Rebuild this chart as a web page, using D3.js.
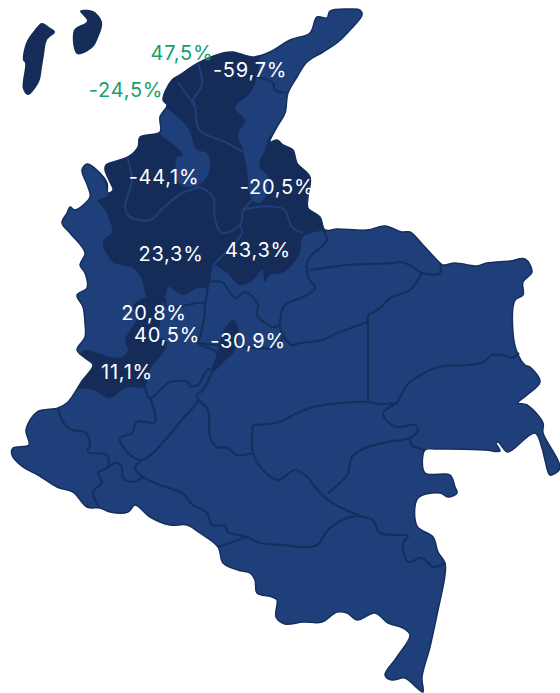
<!DOCTYPE html>
<html>
<head>
<meta charset="utf-8">
<style>
html, body { margin: 0; padding: 0; background: #fff; }
svg { display: block; }
text { font-family: Inter, sans-serif; font-size: 20px; font-weight: 400; letter-spacing: 0.75px; text-anchor: middle; }
</style>
<script src="https://cdn.jsdelivr.net/npm/d3@7"></script>
</head>
<body>
<div id="map"></div>
<script>
// Values
const labelValues = ['47,5%', '-24,5%', '-59,7%', '-44,1%', '-20,5%', '23,3%', '43,3%', '20,8%', '40,5%', '-30,9%', '11,1%'];
const labelOutside = [true, true, false, false, false, false, false, false, false, false, false];
const labelAnchors = [[182, 60], [126, 97], [250, 77], [164, 184], [277, 194], [171, 261], [258, 257], [154, 320], [167, 342], [248, 348], [127, 379]];

// Map geometry, in map units
const islandA = [[42, 23], [49, 27], [55, 32], [47, 40], [44, 55], [42, 67], [39, 82], [28, 95], [23, 89], [25, 63], [23, 60], [26, 43], [33, 32]];
const islandB = [[80, 11], [93, 11], [102, 22], [98, 38], [92, 48], [77, 54], [74, 30], [87, 21]];

const mainland = [
    [330, 11], [350, 9], [360, 10], [362, 15], [350, 30], [338, 42], [323, 52], [307, 62], [297, 77], [288, 93], [285, 113], [277, 127], [270, 142],
    [277, 140], [283, 145], [293, 150], [297, 163], [310, 177], [308, 197], [308, 208], [320, 217], [325, 230], [337, 229], [367, 230], [385, 226],
    [402, 232], [410, 232], [423, 245], [440, 263], [443, 265], [455, 263], [477, 266], [487, 263], [510, 261], [525, 259], [532, 272], [523, 282],
    [523, 295], [515, 300], [513, 333], [517, 352], [525, 365], [530, 367], [540, 382], [527, 395], [518, 403], [527, 405], [543, 423], [543, 433],
    [560, 468], [550, 475], [545, 460], [542, 448], [535, 433], [512, 450], [507, 452], [498, 442], [496, 443], [500, 451], [485, 450], [437, 449],
    [425, 450], [425, 473], [450, 475], [455, 487], [457, 493], [448, 497], [440, 493], [418, 498], [417, 526], [433, 537], [438, 552], [445, 563],
    [445, 575], [438, 610], [430, 647], [422, 677], [423, 692], [417, 688], [405, 678], [392, 680], [385, 675], [397, 657], [410, 635], [403, 628],
    [388, 623], [375, 613], [357, 620], [347, 613], [337, 612], [322, 622], [303, 622], [285, 624], [276, 617], [277, 600], [272, 597], [257, 593],
    [255, 580], [250, 573], [238, 570], [223, 563], [218, 547], [200, 533], [187, 525], [170, 525], [150, 517], [135, 505], [128, 512], [110, 512],
    [100, 508], [87, 507], [73, 492], [57, 487], [38, 475], [23, 467], [12, 455], [13, 448], [29, 445], [26, 430], [37, 412], [58, 408], [68, 402],
    [82, 381], [93, 365], [85, 358], [77, 350], [85, 337], [85, 323], [83, 307], [77, 295], [87, 288], [85, 273], [80, 265], [85, 253], [70, 233],
    [62, 223], [67, 213], [70, 207], [75, 210], [90, 197], [88, 187], [82, 170], [87, 164], [100, 173], [107, 183], [108, 193], [113, 190], [110, 182],
    [105, 170], [106, 165], [128, 157], [138, 147], [140, 137], [160, 132], [160, 117], [167, 105], [163, 100], [172, 80], [180, 75], [198, 63],
    [223, 53], [233, 52], [253, 57], [270, 52], [290, 40], [310, 33], [317, 17], [327, 18]
];

// Departments shown in the darker shade
const darkNorth = [
    [165, 107], [173, 113], [188, 128], [197, 150], [207, 153], [210, 167], [202, 183], [187, 187], [178, 182], [177, 158], [183, 155], [162, 136], [150, 128],
    [130, 130], [100, 150], [100, 170], [108, 195], [98, 200], [105, 210], [112, 232], [103, 242],
    [113, 262], [133, 268], [142, 280], [147, 297], [155, 298], [165, 297], [168, 287], [183, 295], [197, 288], [208, 287], [212, 268], [213, 265],
    [227, 273], [240, 285], [253, 280], [262, 270], [265, 282], [270, 275], [282, 273], [292, 265], [300, 253], [303, 237], [323, 230], [335, 225],
    [325, 200], [320, 160], [290, 130], [270, 136], [266, 148], [260, 160], [260, 168], [267, 175],
    [268, 190], [260, 203], [252, 200], [247, 170], [243, 150], [238, 135], [245, 120], [235, 108], [250, 93], [257, 77], [257, 45],
    [225, 35], [180, 50], [150, 80], [150, 100]
];
const darkSouth = [
    [135, 303], [147, 297], [155, 298], [165, 298], [163, 303], [158, 312], [160, 322], [158, 335], [167, 343], [165, 350], [150, 370], [145, 387],
    [133, 387], [125, 388], [110, 398], [93, 390], [70, 385], [80, 355], [85, 350], [110, 357], [122, 357], [128, 350], [125, 340],
    [135, 323], [138, 315], [133, 307]
];
const darkLens = [[233, 320], [238, 327], [235, 350], [226, 360], [212, 372], [217, 353], [225, 328]];

// Borders between two dark departments
const innerBorders = [
    [[198, 63], [202, 85], [193, 100], [195, 105], [198, 128], [203, 133], [227, 143], [245, 153]],
    [[178, 82], [187, 95], [195, 107]],
    [[127, 157], [132, 180], [125, 207], [130, 217], [150, 220], [163, 208], [182, 193], [200, 187]],
    [[200, 187], [213, 197], [215, 220], [222, 233], [240, 225], [243, 210], [245, 208]],
    [[240, 225], [242, 233], [225, 253], [213, 265]],
    [[243, 210], [257, 207], [277, 207], [285, 210], [292, 227], [303, 233]],
    [[252, 200], [245, 208]]
];

// Borders between the lighter departments
const outerBorders = [
    [[257, 77], [273, 83], [275, 90], [287, 93]],
    [[208, 287], [205, 305]],
    [[165, 298], [167, 307], [187, 305], [203, 303], [205, 310], [200, 337], [198, 343], [217, 353], [213, 368], [207, 370], [198, 385], [190, 386], [188, 382], [170, 382], [150, 398], [145, 387]],
    [[212, 372], [203, 390], [197, 395], [198, 400], [180, 422], [167, 438], [142, 460], [127, 452], [120, 438], [132, 433], [137, 422], [155, 422], [150, 398]],
    [[142, 460], [135, 468], [143, 477], [160, 485], [182, 493], [193, 505], [207, 513], [212, 525], [225, 526], [228, 532], [247, 537], [260, 543], [282, 545], [303, 547], [317, 545], [328, 530], [347, 518], [360, 516]],
    [[218, 547], [247, 537]],
    [[253, 425], [253, 453], [263, 470], [278, 480], [295, 470], [307, 477], [315, 487], [328, 500], [342, 508], [360, 516], [373, 520], [380, 533], [408, 536], [403, 543], [408, 562], [422, 558], [433, 567], [445, 563]],
    [[253, 425], [280, 422], [297, 413], [317, 406], [340, 403], [367, 402], [380, 404], [397, 403]],
    [[397, 403], [405, 388], [410, 382], [438, 367], [468, 365], [483, 362], [492, 355], [503, 355], [512, 358], [519, 353]],
    [[397, 403], [383, 413], [388, 422], [397, 427], [415, 425], [418, 430], [410, 438], [387, 442], [365, 448], [352, 457], [347, 475], [328, 493]],
    [[410, 438], [412, 445], [425, 450]],
    [[368, 315], [368, 402]],
    [[323, 230], [327, 240], [308, 260], [308, 277], [315, 288], [303, 297], [285, 305], [280, 325], [282, 333], [292, 345], [300, 343], [323, 340], [333, 335], [368, 322]],
    [[310, 270], [330, 267], [347, 265], [393, 263], [400, 262], [410, 265], [422, 273], [440, 273], [440, 263]],
    [[422, 273], [410, 290], [390, 298], [380, 308], [368, 315]],
    [[210, 282], [222, 282], [235, 298], [245, 292], [258, 305], [257, 315], [273, 327], [280, 325]],
    [[198, 343], [215, 345], [243, 347], [275, 347], [283, 337]],
    [[198, 400], [208, 410], [210, 437], [217, 447], [228, 448], [237, 455], [253, 453]],
    [[58, 408], [63, 422], [72, 430], [85, 432], [90, 443], [88, 452], [107, 455], [108, 467], [98, 473], [102, 482], [93, 492], [99, 507]],
    [[108, 467], [117, 463], [122, 468], [123, 478], [133, 482], [143, 477]]
];

// Configuration
const config = {
    width: 560,
    height: 693,
    lightColor: '#1f3f7b',
    darkColor: '#152c58',
    borderColor: '#152f5d',
    innerBorderColor: '#1f3f7b',
    outsideLabelColor: '#12a16f'
};

const xScale = d3.scaleLinear().domain([0, config.width]).range([0, config.width]);
const yScale = d3.scaleLinear().domain([0, config.height]).range([0, config.height]);

const line = d3.line()
    .x(d => xScale(d[0]))
    .y(d => yScale(d[1]))
    .curve(d3.curveCatmullRom.alpha(0.5));
const closedLine = d3.line()
    .x(d => xScale(d[0]))
    .y(d => yScale(d[1]))
    .curve(d3.curveCatmullRomClosed.alpha(0.5));

const svg = d3.select('#map')
    .append('svg')
    .attr('width', config.width)
    .attr('height', config.height);

// Keep the dark departments inside the coast
svg.append('clipPath')
    .attr('id', 'coast')
    .append('path')
    .attr('d', closedLine(mainland));

svg.append('path')
    .attr('d', closedLine(mainland))
    .attr('fill', config.lightColor);

svg.selectAll('.dark')
    .data([darkNorth, darkSouth, darkLens])
    .enter()
    .append('path')
    .attr('class', 'dark')
    .attr('clip-path', 'url(#coast)')
    .attr('d', closedLine)
    .attr('fill', config.darkColor);

svg.selectAll('.island')
    .data([islandA, islandB])
    .enter()
    .append('path')
    .attr('class', 'island')
    .attr('d', closedLine)
    .attr('fill', config.darkColor);

// Borders
svg.selectAll('.outer-border')
    .data(outerBorders)
    .enter()
    .append('path')
    .attr('class', 'outer-border')
    .attr('d', line)
    .attr('fill', 'none')
    .attr('stroke', config.borderColor)
    .attr('stroke-width', 2.2)
    .attr('stroke-linejoin', 'round');

svg.selectAll('.inner-border')
    .data(innerBorders)
    .enter()
    .append('path')
    .attr('class', 'inner-border')
    .attr('d', line)
    .attr('fill', 'none')
    .attr('stroke', config.innerBorderColor)
    .attr('stroke-width', 2)
    .attr('stroke-linejoin', 'round');

// Coast line goes over everything
svg.append('path')
    .attr('d', closedLine(mainland))
    .attr('fill', 'none')
    .attr('stroke', config.borderColor)
    .attr('stroke-width', 1.5)
    .attr('stroke-linejoin', 'round');

// Labels
svg.selectAll('text')
    .data(labelValues)
    .enter()
    .append('text')
    .attr('x', (d, i) => xScale(labelAnchors[i][0]))
    .attr('y', (d, i) => yScale(labelAnchors[i][1]))
    .attr('fill', (d, i) => labelOutside[i] ? config.outsideLabelColor : '#fff')
    .text(d => d);
</script>
</body>
</html>
